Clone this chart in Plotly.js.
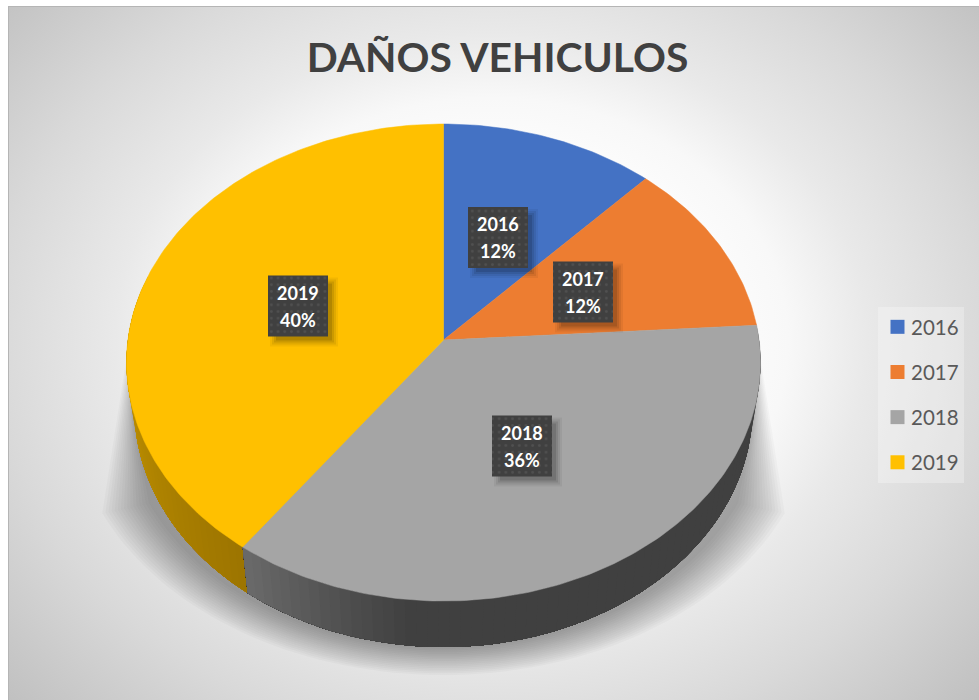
<!DOCTYPE html>
<html>
<head>
<meta charset="utf-8">
<script src="https://cdn.plot.ly/plotly-3.0.1.min.js"></script>
<style>
html,body{margin:0;padding:0;background:#fff;overflow:hidden;width:979px;height:700px}
#bg{position:absolute;left:8px;top:6px;width:971px;height:694px;box-sizing:border-box;border-left:1px solid #b5b5b5;border-top:1px solid #b5b5b5;
background:radial-gradient(ellipse 660px 540px at 482px 334px,#fff 0%,#fff 30%,#f8f8f8 45%,#e9e9e9 57%,#d9d9d9 75%,#bfbfbf 100%)}
#chart{position:absolute;left:0;top:0;width:979px;height:700px}
</style>
</head>
<body>
<div id="bg"></div>
<div id="chart"></div>
<script>
const categories = ['2016','2017','2018','2019'];
const values = [12,12,36,40];
const colors = ['#4472c4','#ed7d31','#a5a5a5','#ffc000'];
const chartTitle = 'DAÑOS VEHICULOS';
const labelCentres = [[498,237.5],[583,292],[522,446],[298,306]];

// 3D pie projection (perspective view of a tilted disc)
const CX=443.5, CY=340, A=236.4, B=315.6, K=0.0944, DEPTH=46, RIM=0.975;
function proj(deg,sx,sy,dy){
  const t=deg*Math.PI/180, u=Math.sin(t), v=Math.cos(t), d=1+K*v;
  let x=B*u/d, y=-A*v/d;
  if(sx!==undefined){ y=(y-22.5)*sy+22.5; x=x*sx; }
  return [CX+x, CY+y+(dy||0)];
}
const total=values.reduce((a,b)=>a+b,0);
const bounds=[0]; values.forEach(v=>bounds.push(bounds[bounds.length-1]+v/total*360));

function poly(pts,color,extra){
  return Object.assign({type:'scatter',mode:'lines',x:pts.map(p=>p[0]),y:pts.map(p=>p[1]),
    fill:'toself',fillcolor:color,line:{width:0,color:color},hoverinfo:'skip',showlegend:false},extra||{});
}
function arc(a0,a1,n,fn){const r=[];for(let i=0;i<=n;i++){r.push(fn(a0+(a1-a0)*i/n));}return r;}
function mix(c1,c2,t){return 'rgb('+c1.map((c,i)=>Math.round(c+(c2[i]-c)*t)).join(',')+')';}

const traces=[];
// soft shadow behind pie
const LAYERS=16;
for(let i=LAYERS;i>=1;i--){
  const t=i/LAYERS, sx=1+54*t/317, sy=1+28*t/238, tipY=335+(1-t)*70;
  const pts=[[130,tipY]].concat(arc(242,118,70,d=>proj(d,sx,sy,DEPTH))).concat([[757,tipY]]);
  traces.push(poly(pts,'rgba(0,0,0,0.022)'));
}
// side wall: each strip overlaps the next so no seams show
function wall(a0,a1,seg,colorAt){
  for(let i=0;i<seg;i++){
    const p0=a0+(a1-a0)*i/seg;
    const col=colorAt(p0);
    const n=Math.max(2,seg-i);
    const top=arc(p0,a1,n,d=>proj(d));
    const bot=arc(a1,p0,n,d=>proj(d,RIM,1,DEPTH));
    traces.push(poly(top.concat(bot),col));
  }
}
const yellowWall=[[205,156,0],[156,116,0]], grayWall=[[64,64,64],[108,108,108]];
wall(bounds[3]+70,bounds[3],40,a=>mix(yellowWall[0],yellowWall[1],(bounds[3]+70-a)/70));
wall(bounds[2],bounds[3],70,a=>mix(grayWall[0],grayWall[1],Math.max(0,(a-185)/(bounds[3]-185))));
// top surface
categories.forEach((c,i)=>{
  const pts=[[CX,CY]].concat(arc(bounds[i],bounds[i+1],Math.ceil(values[i]*4),d=>proj(d))).concat([[CX,CY]]);
  traces.push(poly(pts,colors[i],{line:{width:0.5,color:colors[i]}}));
});
// data label boxes
const BW=60,BH=61;
labelCentres.forEach(c=>{
  const l=c[0]-BW/2,r=c[0]+BW/2,t=c[1]-BH/2,b=c[1]+BH/2;
  [[6,0.05],[4,0.07],[2,0.09],[0,0.12]].forEach(s=>{
    const e=s[0], ox=4, oy=4;
    traces.push(poly([[l+ox-e+4,t+oy-e+4],[r+ox+e,t+oy-e+4],[r+ox+e,b+oy+e],[l+ox-e+4,b+oy+e],[l+ox-e+4,t+oy-e+4]],'rgba(0,0,0,'+s[1]+')'));
  });
  traces.push(poly([[l,t],[r,t],[r,b],[l,b],[l,t]],'#404040',{
    fillpattern:{shape:'.',bgcolor:'#404040',fgcolor:'#505050',size:6.7,solidity:0.14}}));
});
// legend entries
categories.forEach((c,i)=>{
  traces.push({type:'scatter',mode:'markers',x:[null],y:[null],name:c,legendgroup:c,showlegend:true,
    marker:{symbol:'square',size:14,color:colors[i]},hoverinfo:'skip'});
});

const labelAnn=(text,x,y)=>({x:x,y:y,xref:'x',yref:'y',showarrow:false,text:'<b>'+text+'</b>',
  font:{family:'Lato, sans-serif',size:18,color:'#ffffff'},align:'center',xanchor:'center',yanchor:'middle'});
const annotations=[];
categories.forEach((c,i)=>{
  annotations.push(labelAnn(c,labelCentres[i][0],labelCentres[i][1]-13.5));
  annotations.push(labelAnn(values[i]+'%',labelCentres[i][0],labelCentres[i][1]+13.5));
});

const layout={
  width:979,height:700,margin:{l:0,r:0,t:0,b:0},
  paper_bgcolor:'rgba(0,0,0,0)',plot_bgcolor:'rgba(0,0,0,0)',
  title:{text:'<b>'+chartTitle+'</b>',x:497.5/979,xref:'paper',xanchor:'center',y:1-58/700,yref:'container',yanchor:'middle',
    font:{family:'Lato, sans-serif',size:40.8,color:'#404040'}},
  xaxis:{range:[0,979],visible:false,fixedrange:true},
  yaxis:{range:[700,0],visible:false,fixedrange:true},
  annotations:annotations,
  legend:{x:878/979,xanchor:'left',y:1-307/700,yanchor:'top',bgcolor:'rgba(255,255,255,0.28)',indentation:-7,
    entrywidth:45,entrywidthmode:'pixels',
    font:{family:'Lato, sans-serif',size:20.5,color:'#595959'},tracegroupgap:15.5,itemclick:false,itemdoubleclick:false},
  showlegend:true
};
Plotly.newPlot('chart',traces,layout,{displayModeBar:false,staticPlot:true}).then(()=>{
  // swatches sit closer to their text than the legend's fixed item width allows
  document.querySelectorAll('#chart .legendsymbols').forEach(g=>g.setAttribute('transform','translate(6.5,0)'));
});
</script>
</body>
</html>
